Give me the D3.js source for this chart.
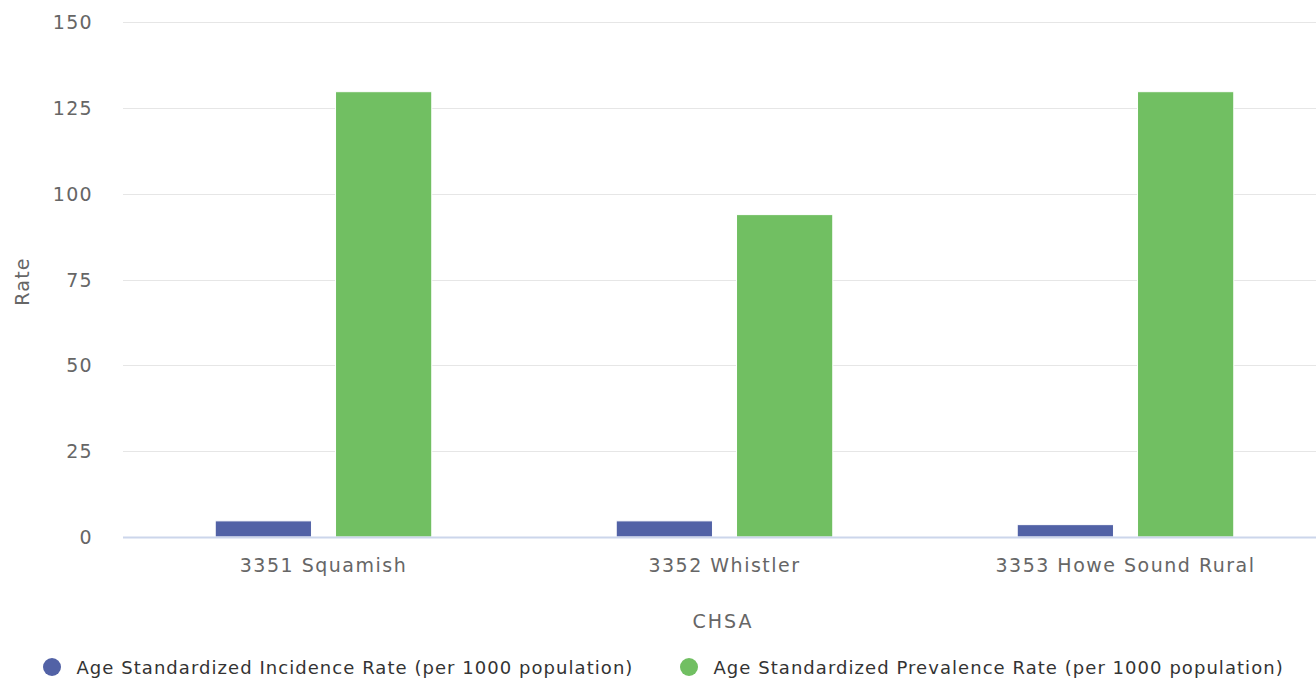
<!DOCTYPE html>
<html><head><meta charset="utf-8">
<script src="https://cdn.jsdelivr.net/npm/d3@7"></script>
<style>
html,body{margin:0;padding:0;background:#fff;overflow:hidden;}
text{font-family:"DejaVu Sans",sans-serif;}
</style></head>
<body><svg id="c" width="1316" height="680"></svg>
<script>
const categories = ["3351 Squamish", "3352 Whistler", "3353 Howe Sound Rural"];
const seriesNames = ["Age Standardized Incidence Rate (per 1000 population)", "Age Standardized Prevalence Rate (per 1000 population)"];
const incidence = [4.7, 4.7, 3.6];
const prevalence = [129.7, 93.9, 129.7];
const yTicks = [0, 25, 50, 75, 100, 125, 150];
const colors = ["#5262a6", "#71bf62"];

(function(){
const svg = d3.select("#c");
const pl = 123, pr = 1326, pt = 22, pb = 537;
const y = d3.scaleLinear().domain([0, 150]).range([pb, pt]);
const x0 = d3.scaleBand().domain(categories).range([pl, pr]);
const x1 = d3.scaleBand().domain([0, 1]).range([x0.bandwidth()*0.2, x0.bandwidth()*0.8]).paddingInner(0.2).paddingOuter(0.1);

svg.append("g").selectAll("line").data(yTicks.filter(d=>d>0)).join("line")
  .attr("x1", pl).attr("x2", 1316).attr("y1", d=>Math.round(y(d))+0.5).attr("y2", d=>Math.round(y(d))+0.5)
  .attr("stroke", "#e6e6e6").attr("stroke-width", 1);

const yAxis = d3.axisLeft(y).tickValues(yTicks).tickSize(0).tickPadding(0);
const ya = svg.append("g").attr("transform", `translate(93,0)`).call(yAxis);
ya.select(".domain").remove();
ya.selectAll("text").attr("fill", "#666").style("font-size", "19px").style("letter-spacing","1.3px").attr("font-family","DejaVu Sans").attr("dy","0.35em");

const data = categories.map((c,i)=>({c, v:[incidence[i], prevalence[i]]}));
const g = svg.append("g");
data.forEach(d=>{
  d.v.forEach((v,j)=>{
    g.append("rect")
      .attr("x", x0(d.c)+x1(j)).attr("width", x1.bandwidth())
      .attr("y", y(v)).attr("height", pb - y(v))
      .attr("fill", colors[j]).attr("stroke", "#fff").attr("stroke-width", 1);
  });
});

const xAxis = d3.axisBottom(x0).tickSize(0).tickPadding(0);
const xa = svg.append("g").attr("transform", `translate(0,${pb})`).call(xAxis);
xa.select(".domain").remove();
xa.selectAll("text").attr("fill", "#666").style("font-size", "19px").style("letter-spacing","1.5px").attr("font-family","DejaVu Sans").attr("y", 35).attr("dy", 0);
svg.append("line").attr("x1", pl).attr("x2", 1316).attr("y1", pb+0.5).attr("y2", pb+0.5).attr("stroke", "#ccd6eb").attr("stroke-width", 2);

svg.append("text").attr("transform", `translate(29,${(pt+pb)/2+2}) rotate(-90)`).attr("text-anchor","middle")
  .attr("fill","#666").style("font-size","19px").style("letter-spacing","1.2px").text("Rate");
svg.append("text").attr("x", 723).attr("y", 628).attr("text-anchor","middle")
  .attr("fill","#666").style("font-size","19px").style("letter-spacing","2px").text("CHSA");

const legX = [52, 689];
seriesNames.forEach((s,j)=>{
  svg.append("circle").attr("cx", legX[j]).attr("cy", 667).attr("r", 9).attr("fill", colors[j]);
  svg.append("text").attr("x", legX[j]+24.5).attr("y", 674).attr("fill","#333")
    .style("font-size","18px").style("font-weight","500").style("letter-spacing","1.05px").text(s);
});
})();
</script></body></html>
